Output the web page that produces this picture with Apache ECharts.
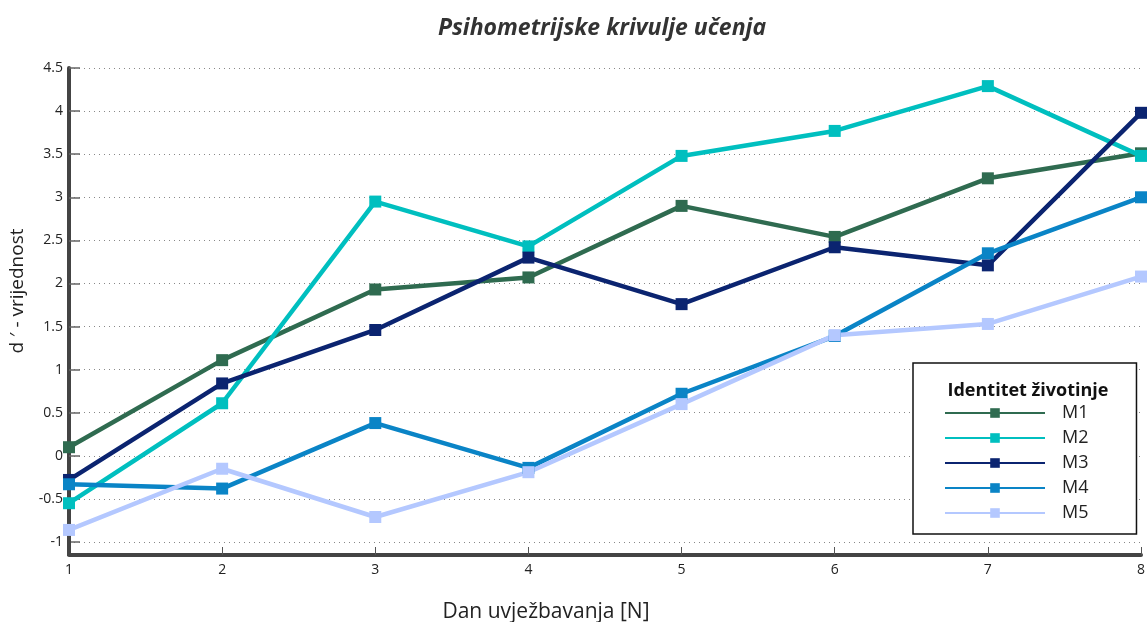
<!DOCTYPE html>
<html>
<head>
<meta charset="utf-8">
<script src="https://cdn.jsdelivr.net/npm/echarts@6/dist/echarts.min.js"></script>
<style>
  html, body { margin: 0; padding: 0; background: #fff; }
  #chart { width: 1148px; height: 622px; }
</style>
</head>
<body>
<div id="chart"></div>
<script>
// x categories (training day)
const days = ["1", "2", "3", "4", "5", "6", "7", "8"];
const seriesNames = ["M1", "M2", "M3", "M4", "M5"];
const m1 = [0.1, 1.11, 1.93, 2.07, 2.9, 2.54, 3.22, 3.51];
const m2 = [-0.55, 0.61, 2.95, 2.43, 3.48, 3.77, 4.29, 3.48];
const m3 = [-0.28, 0.84, 1.46, 2.3, 1.76, 2.42, 2.21, 3.98];
const m4 = [-0.33, -0.38, 0.38, -0.14, 0.72, 1.39, 2.35, 3.0];
const m5 = [-0.86, -0.15, -0.71, -0.19, 0.6, 1.4, 1.53, 2.08];
const colors = ["#2f6b50", "#00bfbf", "#0b2470", "#0a84c6", "#b4c8ff"];

const font = "'Open Sans', sans-serif";
const chart = echarts.init(document.getElementById("chart"));

const makeSeries = (name, data, color) => ({
  name: name,
  type: "line",
  data: data,
  symbol: "rect",
  symbolSize: 12,
  lineStyle: { width: 4.5, color: color },
  itemStyle: { color: color },
  emphasis: { disabled: true },
  animation: false,
});

chart.setOption({
  animation: false,
  title: [
    {
      text: "Psihometrijske krivulje učenja",
      left: 597,
      top: 12,
      textAlign: "center",
      textStyle: { fontFamily: font, fontSize: 23, fontWeight: "bold", fontStyle: "italic", color: "#333" },
    },
    {
      text: "Dan uvježbavanja [N]",
      left: 541,
      top: 597,
      textAlign: "center",
      textStyle: { fontFamily: font, fontSize: 21, fontWeight: "normal", color: "#222" },
    },
    {
      text: "Identitet životinje",
      left: 1023,
      top: 377,
      textAlign: "center",
      z: 10,
      textStyle: { fontFamily: font, fontSize: 18, fontWeight: "bold", color: "#111" },
    },
  ],
  grid: { left: 69, right: 1, top: 68, bottom: 80 },
  legend: {
    orient: "vertical",
    left: 913,
    top: 363,
    padding: [41, 48, 12, 31],
    itemWidth: 100,
    itemHeight: 12,
    itemGap: 7,
    backgroundColor: "#fff",
    borderColor: "#111",
    borderWidth: 1.5,
    borderRadius: 0,
    data: seriesNames,
    textStyle: { fontFamily: font, fontSize: 18, lineHeight: 18, color: "#222", padding: [0, 0, 0, 12] },
  },
  xAxis: {
    type: "category",
    data: days,
    boundaryGap: false,
    offset: 13,
    axisLine: { onZero: false, lineStyle: { color: "#444", width: 4 } },
    axisTick: { inside: true, length: 8, lineStyle: { color: "#555", width: 1 } },
    axisLabel: { fontFamily: font, fontSize: 14, color: "#222", margin: 8 },
    splitLine: { show: false },
  },
  yAxis: {
    type: "value",
    min: -1,
    max: 4.5,
    interval: 0.5,
    name: "d ′ - vrijednost",
    nameLocation: "middle",
    nameGap: 42,
    nameRotate: 90,
    nameTextStyle: { fontFamily: font, fontSize: 19, color: "#222", padding: [0, 0, 0, 28] },
    axisLine: { show: true, lineStyle: { color: "#444", width: 4 } },
    axisTick: { show: true, inside: true, length: 11, lineStyle: { color: "#666", width: 1.5 } },
    axisLabel: { fontFamily: font, fontSize: 14, color: "#222", margin: 6 },
    splitLine: { show: true, lineStyle: { color: "#888", type: [1, 4], width: 1 } },
  },
  graphic: [
    // extend the vertical axis down to the offset horizontal axis
    { type: "rect", shape: { x: 67, y: 540, width: 4, height: 16 }, style: { fill: "#444" }, z: 5 },
  ],
  series: [
    makeSeries("M1", m1, colors[0]),
    makeSeries("M2", m2, colors[1]),
    makeSeries("M3", m3, colors[2]),
    makeSeries("M4", m4, colors[3]),
    makeSeries("M5", m5, colors[4]),
  ],
});
</script>
</body>
</html>
